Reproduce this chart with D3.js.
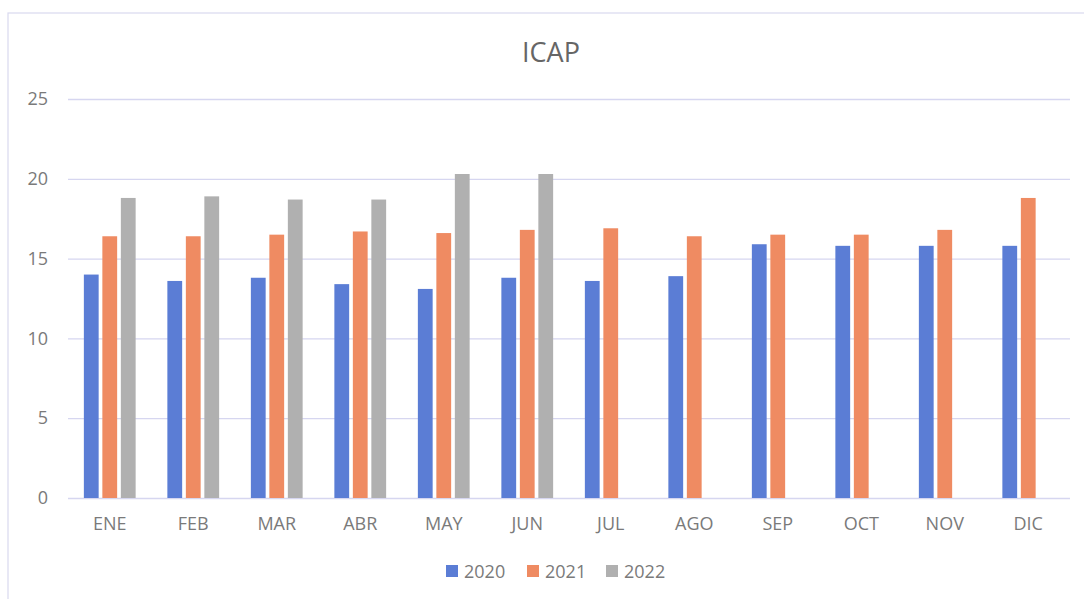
<!DOCTYPE html>
<html>
<head>
<meta charset="utf-8">
<script src="https://cdn.jsdelivr.net/npm/d3@7"></script>
<style>
	body { margin: 0; background: #fff; }
	svg text { font-family: "Open Sans", sans-serif; }
</style>
</head>
<body>
<svg id="chart" width="1084" height="599"></svg>
<script>
	/* Data */
	const months = [ 'ENE', 'FEB', 'MAR', 'ABR', 'MAY', 'JUN', 'JUL', 'AGO', 'SEP', 'OCT', 'NOV', 'DIC' ];
	const years = [ '2020', '2021', '2022' ];
	const values2020 = [ 14.0, 13.6, 13.8, 13.4, 13.1, 13.8, 13.6, 13.9, 15.9, 15.8, 15.8, 15.8 ];
	const values2021 = [ 16.4, 16.4, 16.5, 16.7, 16.6, 16.8, 16.9, 16.4, 16.5, 16.5, 16.8, 18.8 ];
	const values2022 = [ 18.8, 18.9, 18.7, 18.7, 20.3, 20.3, null, null, null, null, null, null ];
	const yTicks = [ 0, 5, 10, 15, 20, 25 ];
	const colors = [ '#5b7dd5', '#ef8b62', '#b0b0b0' ];

	const series = [ values2020, values2021, values2022 ];

	const svg = d3.select('#chart');
	const margin = { left: 68, right: 14, top: 99, bottom: 101 };
	const width = 1084 - margin.left - margin.right;
	const height = 599 - margin.top - margin.bottom;

	// outer chart border
	svg.append('rect')
		.attr('x', 8).attr('y', 13)
		.attr('width', 1100).attr('height', 620)
		.attr('fill', 'none')
		.attr('stroke', '#d9d9ef')
		.attr('stroke-width', 1.2);

	const g = svg.append('g').attr('transform', `translate(${margin.left},${margin.top})`);

	const x = d3.scaleBand().domain(months).range([ 0, width ]).paddingInner(0.38).paddingOuter(0.19);
	const xSub = d3.scaleBand().domain(years).range([ 0, x.bandwidth() ]).paddingInner(0.2);
	const y = d3.scaleLinear().domain([ 0, 25 ]).range([ height, 0 ]);

	// gridlines
	g.append('g')
		.call(d3.axisLeft(y).tickValues(yTicks).tickSize(-width).tickFormat(''))
		.call((s) => s.select('.domain').remove())
		.selectAll('line')
		.attr('stroke', '#d6d6f0')
		.attr('stroke-width', 1.3);

	// y labels
	g.append('g')
		.call(d3.axisLeft(y).tickValues(yTicks).tickSize(0).tickPadding(20))
		.call((s) => s.select('.domain').remove())
		.selectAll('text')
		.attr('font-size', 18)
		.attr('fill', '#7a7a7a');

	// x labels
	g.append('g')
		.attr('transform', `translate(0,${height})`)
		.call(d3.axisBottom(x).tickSize(0).tickPadding(19))
		.call((s) => s.select('.domain').remove())
		.selectAll('text')
		.attr('font-size', 18)
		.attr('fill', '#7a7a7a');

	// bars
	series.forEach(function(vals, si) {
		g.append('g')
			.selectAll('rect')
			.data(vals.map((v, i) => ({ m: months[i], v: v })).filter((d) => d.v != null))
			.join('rect')
			.attr('x', (d) => x(d.m) + xSub(years[si]))
			.attr('y', (d) => y(d.v))
			.attr('width', xSub.bandwidth())
			.attr('height', (d) => height - y(d.v))
			.attr('fill', colors[si]);
	});

	// title
	svg.append('text')
		.attr('x', 551).attr('y', 62)
		.attr('text-anchor', 'middle')
		.attr('font-size', 27)
		.attr('fill', '#666')
		.text('ICAP');

	// legend
	const legendX = [ 446, 527, 606 ];
	const legend = svg.append('g');
	years.forEach(function(yr, i) {
		legend.append('rect')
			.attr('x', legendX[i]).attr('y', 565)
			.attr('width', 12).attr('height', 12)
			.attr('fill', colors[i]);
		legend.append('text')
			.attr('x', legendX[i] + 18).attr('y', 578)
			.attr('font-size', 18)
			.attr('fill', '#7a7a7a')
			.text(yr);
	});
</script>
</body>
</html>
